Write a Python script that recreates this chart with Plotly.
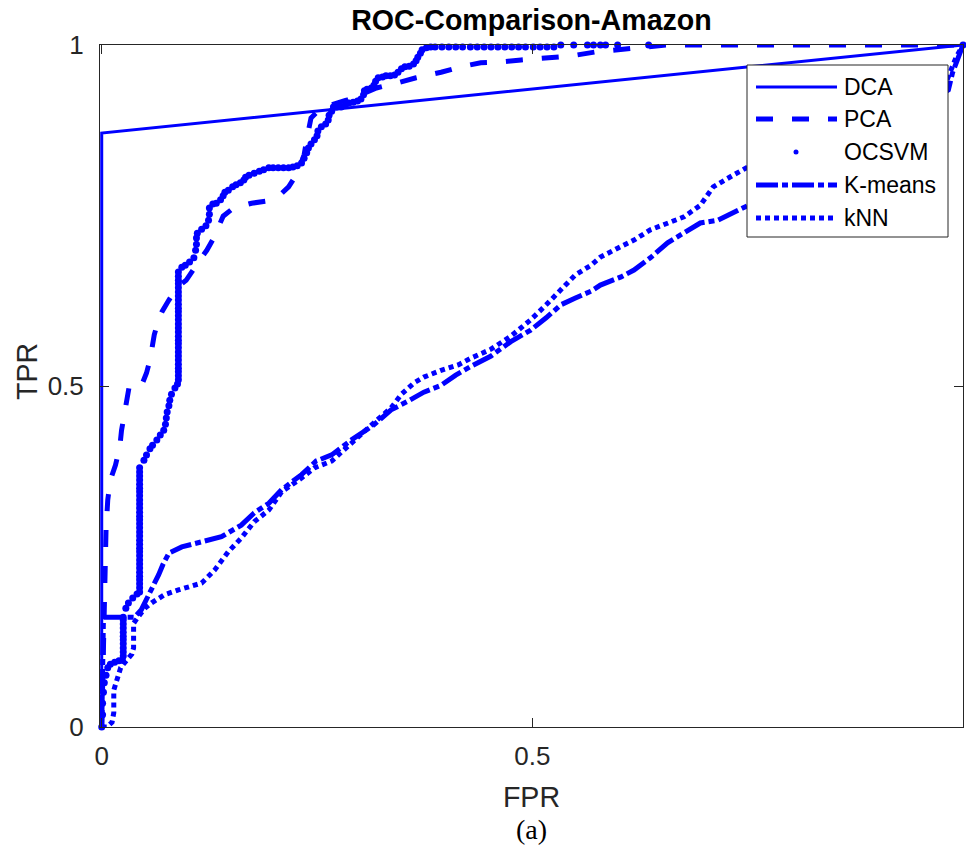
import plotly.graph_objects as go

# ---------------- data ----------------
dca_fpr = [0.0, 0.0, 1.0]
dca_tpr = [0.0, 0.871, 1.0]

pca_fpr = [0.0, 0.001, 0.002, 0.003, 0.005, 0.007, 0.010, 0.016, 0.021, 0.023, 0.027, 0.030,
           0.032, 0.046, 0.052, 0.056, 0.058, 0.061, 0.066, 0.070, 0.078, 0.087, 0.098, 0.107,
           0.114, 0.122, 0.130, 0.141, 0.153, 0.174, 0.191, 0.206, 0.217, 0.228, 0.235, 0.239,
           0.243, 0.255, 0.270, 0.284, 0.301, 0.319, 0.342, 0.365, 0.394, 0.417, 0.440, 0.463,
           0.487, 0.516, 0.545, 0.574, 0.603, 0.632, 0.655, 1.0]
pca_tpr = [0.0, 0.054, 0.128, 0.230, 0.289, 0.333, 0.362, 0.384, 0.411, 0.435, 0.462, 0.487,
           0.500, 0.500, 0.519, 0.538, 0.557, 0.575, 0.597, 0.609, 0.626, 0.644, 0.655, 0.673,
           0.685, 0.699, 0.717, 0.749, 0.761, 0.768, 0.771, 0.779, 0.792, 0.814, 0.839, 0.868,
           0.893, 0.908, 0.913, 0.919, 0.927, 0.937, 0.944, 0.952, 0.960, 0.968, 0.974, 0.975,
           0.978, 0.981, 0.984, 0.990, 0.994, 0.997, 1.0, 1.0]

ocsvm_fpr = [0.0, 0.001, 0.001, 0.002, 0.003, 0.005, 0.007, 0.010, 0.015, 0.020, 0.024,
             0.025, 0.025, 0.025, 0.025, 0.025, 0.025, 0.025, 0.025, 0.025, 0.025, 0.025,
             0.028, 0.031, 0.036, 0.041,
             0.044, 0.044, 0.044, 0.044, 0.044, 0.044, 0.044, 0.044, 0.044, 0.044, 0.044,
             0.044, 0.044, 0.044, 0.044, 0.044, 0.044, 0.044, 0.044, 0.044, 0.044, 0.044,
             0.044, 0.044, 0.044, 0.044, 0.044, 0.044, 0.044, 0.044, 0.044, 0.044,
             0.049, 0.052, 0.056, 0.059, 0.064, 0.068, 0.072, 0.074, 0.075, 0.076, 0.078,
             0.079, 0.081, 0.085, 0.088,
             0.089, 0.089, 0.089, 0.089, 0.089, 0.089, 0.089, 0.089, 0.089, 0.089, 0.089,
             0.089, 0.089, 0.089, 0.089, 0.089, 0.089, 0.089, 0.089, 0.089, 0.089, 0.089,
             0.089, 0.089, 0.089, 0.089, 0.089, 0.089,
             0.093, 0.097, 0.102, 0.107, 0.109, 0.110, 0.110, 0.111, 0.116, 0.121, 0.124,
             0.125, 0.125, 0.129, 0.133, 0.138, 0.141, 0.143, 0.147, 0.152, 0.156, 0.161,
             0.165, 0.167, 0.171, 0.177, 0.183, 0.188, 0.194, 0.199, 0.205, 0.211, 0.217,
             0.222, 0.227, 0.232, 0.235, 0.238, 0.240, 0.243, 0.247, 0.250, 0.251, 0.255,
             0.260, 0.263, 0.264, 0.267, 0.269, 0.273, 0.278, 0.283, 0.287, 0.292, 0.297,
             0.301, 0.304, 0.305, 0.308, 0.313, 0.316, 0.318, 0.321, 0.326, 0.330, 0.335,
             0.340, 0.344, 0.348, 0.352, 0.357, 0.362, 0.365, 0.367, 0.370, 0.372, 0.377,
             0.382, 0.387, 0.395, 0.403, 0.411, 0.419, 0.428, 0.436, 0.444, 0.452, 0.460,
             0.468, 0.476, 0.484, 0.492, 0.501, 0.509, 0.517, 0.525, 0.533, 0.548, 0.564,
             0.571, 0.579, 0.585, 0.599, 0.635, 1.0]
ocsvm_tpr = [0.0, 0.018, 0.035, 0.051, 0.065, 0.076, 0.087, 0.092, 0.095, 0.097, 0.098,
             0.104, 0.110, 0.116, 0.122, 0.128, 0.133, 0.139, 0.145, 0.151, 0.157, 0.161,
             0.174, 0.182, 0.189, 0.195,
             0.198, 0.204, 0.210, 0.216, 0.221, 0.227, 0.233, 0.239, 0.245, 0.251, 0.257,
             0.262, 0.268, 0.274, 0.280, 0.286, 0.292, 0.298, 0.304, 0.309, 0.315, 0.321,
             0.327, 0.333, 0.339, 0.345, 0.350, 0.356, 0.362, 0.368, 0.374, 0.380,
             0.391, 0.399, 0.408, 0.413, 0.421, 0.428, 0.435, 0.444, 0.453, 0.462, 0.471,
             0.479, 0.488, 0.497, 0.503,
             0.509, 0.515, 0.521, 0.526, 0.532, 0.538, 0.544, 0.550, 0.556, 0.562, 0.567,
             0.573, 0.579, 0.585, 0.591, 0.597, 0.603, 0.609, 0.614, 0.620, 0.626, 0.632,
             0.638, 0.644, 0.650, 0.655, 0.661, 0.667,
             0.674, 0.677, 0.682, 0.688, 0.699, 0.708, 0.717, 0.724, 0.730, 0.735, 0.743,
             0.752, 0.761, 0.767, 0.768, 0.773, 0.779, 0.784, 0.787, 0.792, 0.795, 0.798,
             0.802, 0.806, 0.809, 0.812, 0.815, 0.817, 0.820, 0.820, 0.820, 0.820, 0.820,
             0.821, 0.823, 0.827, 0.834, 0.842, 0.849, 0.855, 0.861, 0.867, 0.874, 0.880,
             0.884, 0.890, 0.897, 0.903, 0.909, 0.909, 0.909, 0.912, 0.915, 0.916, 0.918,
             0.921, 0.927, 0.933, 0.935, 0.937, 0.941, 0.947, 0.952, 0.953, 0.955, 0.955,
             0.956, 0.960, 0.965, 0.968, 0.969, 0.972, 0.977, 0.982, 0.988, 0.993, 0.996,
             0.997, 0.997, 0.997, 0.997, 0.997, 0.997, 0.997, 0.997, 0.997, 0.997, 0.997,
             0.997, 0.997, 0.997, 0.997, 0.997, 0.997, 0.997, 0.997, 1.0, 1.0, 1.0,
             1.0, 1.0, 1.0, 1.0, 1.0, 1.0]

kmeans_fpr = [0.0, 0.001, 0.002, 0.002, 0.025, 0.038, 0.046, 0.054, 0.060, 0.066, 0.071,
              0.078, 0.093, 0.116, 0.139, 0.162, 0.177, 0.194, 0.209, 0.232, 0.249, 0.267,
              0.290, 0.316, 0.336, 0.356, 0.374, 0.394, 0.411, 0.429, 0.452, 0.475, 0.498,
              0.516, 0.533, 0.550, 0.568, 0.579, 0.603, 0.618, 0.637, 0.657, 0.676, 0.695,
              0.715, 0.733, 0.750, 0.811, 0.869, 0.927, 0.983, 0.988, 0.994, 1.0]
kmeans_tpr = [0.0, 0.054, 0.113, 0.161, 0.161, 0.161, 0.172, 0.191, 0.208, 0.223, 0.238,
              0.255, 0.264, 0.271, 0.279, 0.296, 0.314, 0.328, 0.348, 0.370, 0.390, 0.399,
              0.421, 0.443, 0.465, 0.478, 0.491, 0.501, 0.516, 0.529, 0.544, 0.565, 0.582,
              0.600, 0.619, 0.629, 0.639, 0.648, 0.660, 0.670, 0.688, 0.710, 0.724, 0.739,
              0.743, 0.754, 0.765, 0.802, 0.846, 0.890, 0.934, 0.960, 0.981, 1.0]

knn_fpr = [0.0, 0.006, 0.012, 0.014, 0.014, 0.017, 0.022, 0.029, 0.035, 0.037, 0.037,
           0.042, 0.050, 0.058, 0.073, 0.089, 0.104, 0.116, 0.131, 0.147, 0.162, 0.177,
           0.194, 0.209, 0.232, 0.247, 0.267, 0.293, 0.316, 0.336, 0.348, 0.363, 0.374,
           0.394, 0.414, 0.429, 0.452, 0.475, 0.498, 0.516, 0.533, 0.550, 0.568, 0.579,
           0.599, 0.618, 0.637, 0.657, 0.676, 0.695, 0.710, 0.733, 0.750, 0.811, 0.869,
           0.927, 0.979, 0.985, 0.992, 1.0]
knn_tpr = [0.0, 0.0, 0.007, 0.021, 0.054, 0.069, 0.087, 0.098, 0.107, 0.116, 0.152,
           0.161, 0.174, 0.182, 0.194, 0.201, 0.207, 0.211, 0.230, 0.257, 0.277, 0.301,
           0.318, 0.345, 0.365, 0.380, 0.390, 0.421, 0.446, 0.468, 0.488, 0.505, 0.513,
           0.523, 0.531, 0.541, 0.554, 0.573, 0.597, 0.619, 0.641, 0.663, 0.677, 0.689,
           0.702, 0.714, 0.729, 0.739, 0.748, 0.765, 0.792, 0.809, 0.821, 0.853, 0.883,
           0.912, 0.941, 0.960, 0.982, 1.0]

series_names = ["DCA", "PCA", "OCSVM", "K-means", "kNN"]

axis_ticks = [0, 0.5, 1]
axis_ticktext = ["0", "0.5", "1"]

# ---------------- styles ----------------
BLUE = "#0000FF"
AXC = "#262626"
SANS = "Arial, Liberation Sans, sans-serif"
styles = {
    "DCA": dict(mode="lines", line=dict(color=BLUE, width=3)),
    "PCA": dict(mode="lines", line=dict(color=BLUE, width=5, dash="17px,19px")),
    "OCSVM": dict(mode="markers", marker=dict(color=BLUE, size=7, line=dict(width=0))),
    "K-means": dict(mode="lines", line=dict(color=BLUE, width=5, dash="22px,4px,6px,4px")),
    "kNN": dict(mode="lines", line=dict(color=BLUE, width=5, dash="5px,4px")),
}
series = {
    "DCA": (dca_fpr, dca_tpr),
    "PCA": (pca_fpr, pca_tpr),
    "OCSVM": (ocsvm_fpr, ocsvm_tpr),
    "K-means": (kmeans_fpr, kmeans_tpr),
    "kNN": (knn_fpr, knn_tpr),
}

fig = go.Figure()
for name in series_names:
    xs, ys = series[name]
    fig.add_trace(go.Scatter(x=xs, y=ys, name=name, showlegend=False,
                             cliponaxis=False, **styles[name]))

axis_common = dict(tickvals=axis_ticks, ticktext=axis_ticktext,
                   showline=True, mirror="ticks", linecolor=AXC, linewidth=1,
                   ticks="inside", ticklen=9, tickcolor=AXC, tickwidth=1,
                   showgrid=False, zeroline=False,
                   tickfont=dict(family=SANS, size=26, color=AXC))

fig.update_layout(
    width=966, height=850,
    margin=dict(l=100, r=3, t=45, b=123),
    paper_bgcolor="white", plot_bgcolor="white",
    title=dict(text="<b>ROC-Comparison-Amazon</b>", x=0.5, xref="paper",
               y=1 - 20 / 850, yref="container", xanchor="center", yanchor="middle",
               font=dict(family=SANS, size=28.6, color="black")),
    xaxis=dict(axis_common, range=[-0.002, 1],
               title=dict(text="FPR", standoff=16,
                          font=dict(family=SANS, size=28.6, color=AXC)),
               ticklabelstandoff=6),
    yaxis=dict(axis_common, range=[0, 1], ticklabelstandoff=10),
    showlegend=False,
)

# ---------------- legend box (drawn, MATLAB-like long samples) ----------------
def px_x(p):
    return (p - 100) / 863.0

def px_y(p):
    return (727 - p) / 682.0

fig.add_shape(type="rect", xref="paper", yref="paper", layer="above",
              x0=px_x(747), x1=px_x(948), y0=px_y(237), y1=px_y(65),
              fillcolor="white", line=dict(color=AXC, width=1))
row_px = [87, 119, 152, 185, 218]
for name, rp in zip(series_names, row_px):
    st = styles[name]
    if st["mode"] == "lines":
        fig.add_shape(type="line", xref="paper", yref="paper", layer="above",
                      x0=px_x(756), x1=px_x(837), y0=px_y(rp), y1=px_y(rp),
                      line=dict(color=BLUE, width=st["line"]["width"],
                                dash=st["line"].get("dash", "solid")))
    else:
        fig.add_shape(type="circle", xref="paper", yref="paper", layer="above",
                      x0=px_x(793.5), x1=px_x(798.5), y0=px_y(rp + 2.5), y1=px_y(rp - 2.5),
                      fillcolor=BLUE, line=dict(width=0))
    fig.add_annotation(text=name, x=px_x(842), y=px_y(rp), xref="paper", yref="paper",
                       showarrow=False, xanchor="left", yanchor="middle",
                       font=dict(family=SANS, size=23, color="black"))

# y-axis label (placed like the MATLAB ylabel)
fig.add_annotation(text="TPR", x=px_x(27), y=px_y(372), xref="paper", yref="paper",
                   showarrow=False, textangle=-90, xanchor="center", yanchor="middle",
                   font=dict(family=SANS, size=28.6, color=AXC))

fig.add_annotation(text="(a)", x=0.5, y=-0.151, xref="paper", yref="paper",
                   showarrow=False, xanchor="center", yanchor="middle",
                   font=dict(family="Times New Roman, Liberation Serif, serif", size=28, color="black"))

fig.write_html("out.html")
